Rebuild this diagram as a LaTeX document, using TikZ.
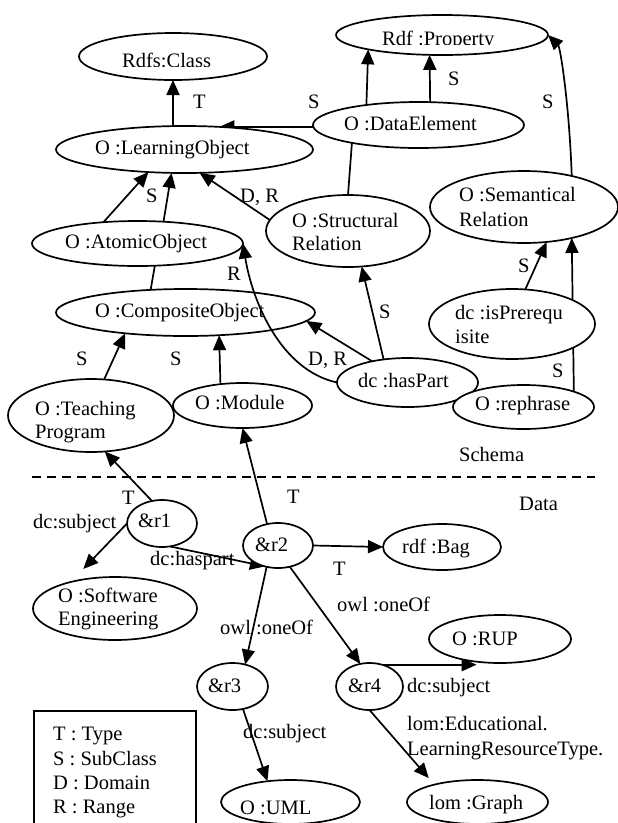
\documentclass[tikz,border=0pt]{standalone}
\usepackage{fontspec}
\setmainfont{Liberation Serif}
\usetikzlibrary{arrows.meta,shapes.geometric}
\pgfdeclarelayer{edges}
\pgfsetlayers{edges,main}

\tikzset{
  ent/.style={draw, ellipse, fill=white, inner sep=0pt, outer sep=0pt, line width=1.7pt},
  lbl/.style={anchor=base west, inner sep=0pt, font=\fontsize{20.5}{24}\selectfont},
  link/.style={line width=1.7pt},
  arr/.style={link, -{Triangle[length=15pt,width=13pt]}},
}

\begin{document}
\begin{tikzpicture}[x=1pt,y=-1pt]
\useasboundingbox (0,0) rectangle (618,823);
\begin{pgfonlayer}{edges}
  \fill[white] (0,0) rectangle (618,823);
\end{pgfonlayer}

% ---------- schema entities ----------
\node[ent, minimum width=188pt, minimum height=47pt] (rc)  at (173,56.5)   {};
\node[ent, minimum width=212pt, minimum height=40pt] (rp)  at (442,35)     {};
\node[ent, minimum width=257pt, minimum height=47pt] (lo)  at (184.5,149.5) {};
\node[ent, minimum width=211pt, minimum height=46pt] (de)  at (418.5,125)  {};
\node[ent, minimum width=211pt, minimum height=45pt] (ao)  at (137.5,243.5) {};
\node[ent, minimum width=259pt, minimum height=47pt] (co)  at (185.5,312.5) {};
\node[ent, minimum width=164pt, minimum height=72pt] (sr)  at (348,231)    {};
\node[ent, minimum width=188pt, minimum height=72pt] (sm)  at (524,207)    {};
\node[ent, minimum width=166pt, minimum height=70pt] (pq)  at (512,324)    {};
\node[ent, minimum width=141pt, minimum height=49pt] (hp)  at (407.5,382.5) {};
\node[ent, minimum width=141pt, minimum height=44pt] (rph) at (523.5,407)  {};
\node[ent, minimum width=166pt, minimum height=73pt] (tp)  at (91,415.5)   {};
\node[ent, minimum width=139pt, minimum height=45pt] (md)  at (242.5,405.5) {};

% ---------- data entities ----------
\node[ent, minimum width=70pt,  minimum height=47pt] (r1)  at (162,523.5)  {};
\node[ent, minimum width=70pt,  minimum height=45pt] (r2)  at (278,545.5)  {};
\node[ent, minimum width=118pt, minimum height=46pt] (bag) at (442,547)    {};
\node[ent, minimum width=164pt, minimum height=63pt] (se)  at (115,608.5)  {};
\node[ent, minimum width=71pt,  minimum height=47pt] (r3)  at (232.5,686.5) {};
\node[ent, minimum width=67pt,  minimum height=47pt] (r4)  at (369.5,686.5) {};
\node[ent, minimum width=142pt, minimum height=48pt] (rup) at (500,639)    {};
\node[ent, minimum width=139pt, minimum height=44pt] (uml) at (290.5,802)  {};
\node[ent, minimum width=141pt, minimum height=44pt] (gr)  at (477.5,802)  {};

% ---------- entity names ----------
\begin{scope}
  \clip (110,40) rectangle (240,66);
  \node[lbl] (rc-t) at (122,67) {Rdfs:Class};
\end{scope}
\begin{scope}
  \clip (370,20) rectangle (520,44);
  \node[lbl] (rp-t) at (382,45) {Rdf :Property};
\end{scope}
\node[lbl] (lo-t)  at (95,154)  {O :LearningObject};
\node[lbl] (de-t)  at (344,130) {O :DataElement};
\node[lbl] (ao-t)  at (65,248)  {O :AtomicObject};
\node[lbl] (co-t)  at (95,317)  {O :CompositeObject};
\node[lbl] (sr-t1) at (292,227) {O :Structural};
\node[lbl] (sr-t2) at (292,250) {Relation};
\node[lbl] (sm-t1) at (459,201) {O :Semantical};
\node[lbl] (sm-t2) at (459,226) {Relation};
\node[lbl] (pq-t1) at (455,319) {dc :isPrerequ};
\node[lbl] (pq-t2) at (455,343) {isite};
\node[lbl] (hp-t)  at (358,387) {dc :hasPart};
\node[lbl] (rph-t) at (475,410) {O :rephrase};
\node[lbl] (tp-t1) at (35,415)  {O :Teaching};
\node[lbl] (tp-t2) at (35,438)  {Program};
\node[lbl] (md-t)  at (195,409) {O :Module};
\node[lbl] (r1-t)  at (138,527) {\&r1};
\node[lbl] (r2-t)  at (255,551) {\&r2};
\node[lbl] (bag-t) at (402,553) {rdf :Bag};
\node[lbl] (se-t1) at (58,602)  {O :Software};
\node[lbl] (se-t2) at (58,625)  {Engineering};
\node[lbl] (r3-t)  at (208,692) {\&r3};
\node[lbl] (r4-t)  at (348,692) {\&r4};
\node[lbl] (rup-t) at (452,645) {O :RUP};
\node[lbl] (uml-t) at (240,814) {O :UML};
\node[lbl] (gr-t)  at (429,809) {lom :Graph};

% ---------- connectors behind the entities ----------
\begin{pgfonlayer}{edges}
  \draw[arr]  (lo.north -| rc.south) -- (rc.south);
  \draw[arr]  (lo.33.5 -| de.west) -- (lo.33.5);
  \draw[arr]  (de.159.5) -- (rp.191.2);
  \draw[arr]  (de.63.3) -- (rp.238.9);
  \draw[arr]  (sm.33.6) .. controls (569,100) and (560,47) .. (rp.east);
  \draw[link] (de.195.1) -- (sr.north);
  \draw[arr]  (ao.148.3) -- (lo.212.5);
  \draw[arr]  (ao.40.5) -- (lo.241.9);
  \draw[arr]  (sr.172.2) -- (lo.303.6);
  \draw[link] (ao.308.2) -- (co.147.5);
  \draw[arr]  (hp.149.2) -- (co.356.2);
  \draw[arr]  (hp.136.8) -- (sr.291.5);
  \draw[arr]  (pq.69.4) -- (sm.303.4);
  \draw[arr]  (rph.17.6) -- (sm.327.1);
  \draw[arr]  (tp.70.1) -- (co.199.1);
  \draw[arr]  (md.136.6) -- (co.326.7);
  % data part
  \draw[arr]  (r1.114) -- (tp.291.3);
  \draw[arr, shorten >=18pt] (r1.west) -- (se.149.7);
  \draw[arr]  (r1.289.3) -- (r2.238.1);
  \draw[arr]  (r2.117.2) -- (md.south);
  \draw[arr]  (r2.east) -- (bag.west);
  \draw[arr]  (r2.242.8) -- (r3.60.4);
  \draw[arr]  (r2.299.6) -- (r4.112.9);
  \draw[arr]  (r4.60.2) -- (r4.60.2 -| rup.224.6);
  \draw[arr]  (r3.295.1) -- (uml.138.6);
  \draw[arr, shorten >=8.6pt] (r4.south) -- (gr.158.9);
\end{pgfonlayer}

% range link of hasPart, drawn across CompositeObject
\draw[arr] (hp.west) .. controls (280,370) and (252,300) .. (ao.east);

% ---------- connector labels ----------
\node[lbl] (l-t1)  at (193,108) {T};
\node[lbl] (l-s1)  at (308,108) {S};
\node[lbl] (l-s2)  at (448,85)  {S};
\node[lbl] (l-s3)  at (542,108) {S};
\node[lbl] (l-s4)  at (146,202) {S};
\node[lbl] (l-dr1) at (240,202) {D, R};
\node[lbl] (l-r)   at (227,280) {R};
\node[lbl] (l-s5)  at (76,365)  {S};
\node[lbl] (l-s6)  at (170,365) {S};
\node[lbl] (l-s7)  at (379,318) {S};
\node[lbl] (l-s8)  at (518,272) {S};
\node[lbl] (l-s9)  at (552,377) {S};
\node[lbl] (l-dr2) at (308,365) {D, R};
\node[lbl] (l-t2)  at (122,504) {T};
\node[lbl] (l-sub1) at (33,528) {dc:subject};
\node[lbl] (l-hp)  at (150,565) {dc:haspart};
\node[lbl] (l-t3)  at (287,503) {T};
\node[lbl] (l-t4)  at (333,575) {T};
\node[lbl] (l-one1) at (337,611) {owl :oneOf};
\node[lbl] (l-one2) at (220,634) {owl :oneOf};
\node[lbl] (l-sub2) at (243,738) {dc:subject};
\node[lbl] (l-sub3) at (407,692) {dc:subject};
\node[lbl] (l-lom1) at (407,730) {lom:Educational.};
\node[lbl] (l-lom2) at (407,755) {LearningResourceType.};

% ---------- schema / data separation ----------
\coordinate (sepL) at (32,477);
\coordinate (sepR) at (595,477);
\draw[link, dash pattern=on 9pt off 6pt] (sepL) -- (sepR);
\node[lbl] (schema) at (459,461) {Schema};
\node[lbl] (data)   at (519,510) {Data};

% ---------- legend ----------
\node[draw, line width=1.7pt, inner sep=0pt, anchor=north west,
      minimum width=162pt, minimum height=130pt] (legend) at (33,710) {};
\node[lbl] (lg1) at (53,740) {T : Type};
\node[lbl] (lg2) at (53,765) {S : SubClass};
\node[lbl] (lg3) at (53,789) {D : Domain};
\node[lbl] (lg4) at (53,813) {R : Range};
\end{tikzpicture}
\end{document}
